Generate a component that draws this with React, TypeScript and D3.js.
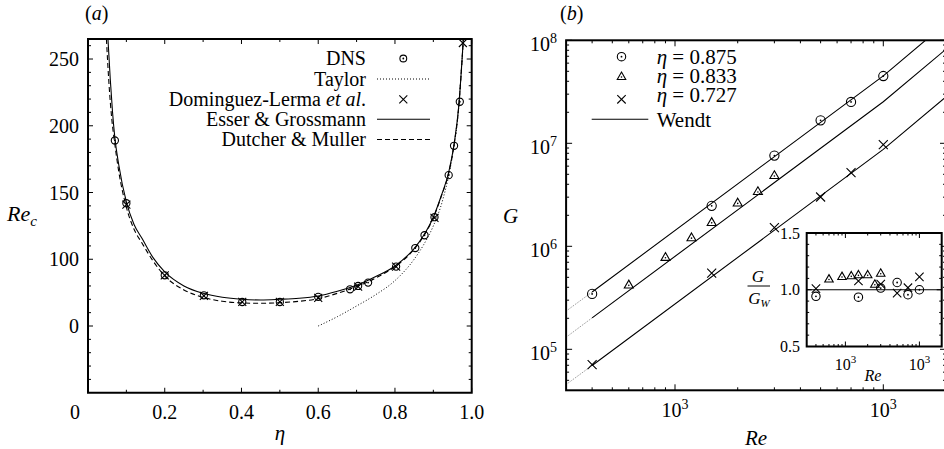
import React from 'react';
import * as d3 from 'd3';

const TS = { fontFamily: '"Liberation Serif", monospace' };

// ---------- Panel (a) ----------
const etaTickValues = [0, 0.2, 0.4, 0.6, 0.8, 1.0];
const etaTickLabels = ['0', '0.2', '0.4', '0.6', '0.8', '1.0'];
const etaMinorTicks = [0.1, 0.3, 0.5, 0.7, 0.9];
const recTickValues = [50, 100, 150, 200, 250];
const recTickLabels = ['0', '100', '150', '200', '250'];

const dnsEta = [0.07, 0.1, 0.2, 0.302, 0.402, 0.5, 0.6, 0.683, 0.704, 0.73, 0.803, 0.853, 0.877, 0.903, 0.94, 0.954, 0.969];
const dnsRe = [189, 142, 88, 73, 68, 68, 71.8, 77.5, 80, 82.5, 94.5, 108.4, 118, 131.5, 163, 185, 218];

const dlEta = [0.1, 0.2, 0.302, 0.402, 0.5, 0.6, 0.704, 0.803, 0.903, 0.977];
const dlRe = [141, 88, 72.5, 68, 68, 71, 79.5, 94.5, 131, 262];

const egEta = [0.052, 0.058, 0.064, 0.07, 0.08, 0.1, 0.12, 0.141, 0.17, 0.2, 0.25, 0.3, 0.35, 0.4, 0.45, 0.5, 0.55, 0.6, 0.65, 0.7, 0.75, 0.8, 0.85, 0.875, 0.9, 0.92, 0.94, 0.955, 0.966, 0.976, 0.982];
const egRe = [265, 235, 210, 191, 171, 143, 126, 115.5, 101, 90.5, 80, 74.5, 71.5, 70, 69.5, 70, 70.8, 72.5, 76, 80.5, 87, 95, 108, 118, 131.5, 147, 165, 188, 214, 255, 285];

const dmEta = [0.048, 0.055, 0.062, 0.07, 0.08, 0.1, 0.12, 0.141, 0.17, 0.2, 0.25, 0.3, 0.35, 0.4, 0.45, 0.5, 0.55, 0.6, 0.65, 0.7, 0.75, 0.8, 0.85, 0.875, 0.9, 0.92, 0.94, 0.955, 0.966, 0.976, 0.982];
const dmRe = [265, 230, 205, 186, 166, 139, 122.5, 112, 98.5, 87.5, 77, 71.5, 68.5, 67.3, 67, 67.5, 68.5, 70.5, 74.5, 79.5, 86, 94.5, 107.5, 117.5, 131, 146.5, 164.5, 187.5, 213.5, 254.5, 285];

const taylorEta = [0.6, 0.65, 0.7, 0.75, 0.8, 0.85, 0.875, 0.9, 0.925, 0.95, 0.965, 0.975, 0.984];
const taylorRe = [50, 57, 65, 73.5, 84, 100, 111, 125, 145, 178, 210, 250, 285];

const legendALabels = ['DNS', 'Taylor', 'Dominguez-Lerma', 'Esser & Grossmann', 'Dutcher & Muller'];

// ---------- Panel (b) ----------
const reMajorTicks = [1000, 10000];
const reTickExps = ['3', '3'];
const gMajorTicks = [1e5, 1e6, 1e7, 1e8];
const gTickExps = ['5', '6', '7', '8'];

const re875 = [400, 1500, 3000, 5000, 7000, 10000];
const g875 = [3.45e5, 2.47e6, 7.6e6, 1.67e7, 2.52e7, 4.5e7];
const re833 = [600, 900, 1200, 1500, 2000, 2500, 3000];
const g833 = [4.18e5, 7.74e5, 1.2e6, 1.69e6, 2.61e6, 3.37e6, 4.82e6];
const re727 = [400, 1500, 3000, 5000, 7000, 10000];
const g727 = [7.1e4, 5.5e5, 1.52e6, 3.01e6, 5.19e6, 9.7e6];

const wendtRe = [300, 400, 10000, 20000];
const wendt875 = [2.35e5, 3.6e5, 4.52e7, 1.47e8];
const wendt833 = [1.31e5, 2.02e5, 2.53e7, 8.2e7];
const wendt727 = [4.55e4, 6.97e4, 8.72e6, 2.83e7];

const legendBLabels = ['0.875', '0.833', '0.727'];

// inset ratios G/G_W
const ratio875 = [0.942, 0.935, 1.015, 1.064, 0.956, 1.0];
const ratio833 = [1.09, 1.112, 1.118, 1.127, 1.127, 1.044, 1.141];
const ratio727 = [1.01, 1.077, 1.05, 0.97, 1.018, 1.113];
const insetYTicks = [0.5, 1.0, 1.5];
const insetYLabels = ['0.5', '1.0', '1.5'];

// ---------- scales ----------
const xA = d3.scaleLinear().domain([0, 1]).range([88, 471.7]);
const yA = d3.scaleLinear().domain([0, 265]).range([392.75, 39]);

const xB = d3.scaleLog().domain([300, 20000]).range([566.1, 946]);
const yB = d3.scaleLog().domain([4e4, 1e8]).range([390.3, 40.3]);

const xI = d3.scaleLog().domain([300, 20000]).range([806.7, 941.7]);
const yI = d3.scaleLinear().domain([0.5, 1.5]).range([346.5, 233]);

function logMinor(lo: number, hi: number) {
  const out: number[] = [];
  for (let e = Math.floor(Math.log10(lo)); e <= Math.ceil(Math.log10(hi)); e++) {
    for (let k = 2; k <= 9; k++) {
      const v = k * Math.pow(10, e);
      if (v > lo * 1.0001 && v < hi * 0.9999) out.push(v);
    }
  }
  return out;
}

const curveLineA = (xs: number[], ys: number[]) =>
  d3.line<number>().x((_, i) => xA(xs[i])).y((_, i) => yA(ys[i])).curve(d3.curveMonotoneX)(xs) || '';

const lineB = (xs: number[], ys: number[]) =>
  d3.line<number>().x((_, i) => xB(xs[i])).y((_, i) => yB(ys[i]))(xs) || '';

const CircleDot = ({ cx, cy, r }: { cx: number; cy: number; r: number }) => (
  <g>
    <circle cx={cx} cy={cy} r={r} fill="none" stroke="#000" strokeWidth={1.1} />
    <circle cx={cx} cy={cy} r={0.9} fill="#000" />
  </g>
);
const Cross = ({ cx, cy, s }: { cx: number; cy: number; s: number }) => (
  <path d={`M${cx - s},${cy - s}L${cx + s},${cy + s}M${cx - s},${cy + s}L${cx + s},${cy - s}`} stroke="#000" strokeWidth={1.1} fill="none" />
);
const TriDot = ({ cx, cy, s }: { cx: number; cy: number; s: number }) => {
  const h = s * 0.866;
  return (
    <g>
      <path d={`M${cx},${cy - (2 * h) / 3}L${cx + s / 2},${cy + h / 3}L${cx - s / 2},${cy + h / 3}Z`} fill="none" stroke="#000" strokeWidth={1.1} />
      <circle cx={cx} cy={cy} r={0.8} fill="#000" />
    </g>
  );
};

const T = (props: any) => <text {...props} style={TS} />;

export default function App() {
  const [ax0, ax1] = xA.range();
  const [ay0, ay1] = yA.range();
  const [bx0, bx1] = xB.range();
  const [by0, by1] = yB.range();
  const [ix0, ix1] = xI.range();
  const [iy0, iy1] = yI.range();

  const recMinor = d3.range(10, 265, 10).filter((v) => v % 50 !== 0);
  const reMinor = logMinor(300, 20000);
  const gMinor = logMinor(4e4, 1e8);
  const insetYMinor = d3.range(0.6, 1.45, 0.1).filter((v) => Math.abs(v - 1) > 0.01);

  const legA = [65, 85.5, 105.8, 125.8, 146];
  const legB = [63.5, 83, 101.5, 126.7];

  return (
    <svg width={944} height={449} style={{ position: 'absolute', left: 0, top: 0, background: '#fff' }}>
      <defs>
        <clipPath id="clipA"><rect x={ax0} y={ay1} width={ax1 - ax0} height={ay0 - ay1} /></clipPath>
        <clipPath id="clipB"><rect x={bx0} y={by1} width={bx1 - bx0} height={by0 - by1} /></clipPath>
        <clipPath id="clipI"><rect x={ix0} y={iy1} width={ix1 - ix0} height={iy0 - iy1} /></clipPath>
      </defs>
      <rect x={0} y={0} width={944} height={449} fill="#fff" />

      {/* ================= Panel (a) ================= */}
      <T x={85} y={20} fontSize={20}>(<tspan fontStyle="italic">a</tspan>)</T>

      <g stroke="#000" strokeWidth={1}>
        {etaTickValues.map((v) => (
          <g key={'ex' + v}>
            <line x1={xA(v)} x2={xA(v)} y1={ay0} y2={ay0 - 5} />
            <line x1={xA(v)} x2={xA(v)} y1={ay1} y2={ay1 + 5} />
          </g>
        ))}
        {etaMinorTicks.map((v) => (
          <g key={'exm' + v}>
            <line x1={xA(v)} x2={xA(v)} y1={ay0} y2={ay0 - 3} />
            <line x1={xA(v)} x2={xA(v)} y1={ay1} y2={ay1 + 3} />
          </g>
        ))}
        {recTickValues.map((v) => (
          <g key={'ry' + v}>
            <line x1={ax0} x2={ax0 + 5} y1={yA(v)} y2={yA(v)} />
            <line x1={ax1} x2={ax1 - 5} y1={yA(v)} y2={yA(v)} />
          </g>
        ))}
        {recMinor.map((v) => (
          <g key={'rym' + v}>
            <line x1={ax0} x2={ax0 + 3} y1={yA(v)} y2={yA(v)} />
            <line x1={ax1} x2={ax1 - 3} y1={yA(v)} y2={yA(v)} />
          </g>
        ))}
      </g>

      {etaTickValues.map((v, i) => (
        <T key={'exl' + v} x={i === 0 ? xA(v) - 8 : xA(v)} y={418.5} fontSize={20} textAnchor={i === 0 ? 'end' : 'middle'}>
          {etaTickLabels[i]}
        </T>
      ))}
      {recTickValues.map((v, i) => (
        <T key={'ryl' + v} x={79} y={yA(v) + 7} fontSize={20} textAnchor="end">
          {recTickLabels[i]}
        </T>
      ))}
      <T x={280} y={440} fontSize={21} fontStyle="italic" textAnchor="middle">η</T>
      <T x={7} y={221} fontSize={22} fontStyle="italic">
        Re<tspan fontSize={15} dy={5}>c</tspan>
      </T>

      <g clipPath="url(#clipA)" fill="none" stroke="#000">
        <path d={curveLineA(taylorEta, taylorRe)} strokeWidth={1} strokeDasharray="1,2" />
        <path d={curveLineA(dmEta, dmRe)} strokeWidth={1.1} strokeDasharray="5,3" />
        <path d={curveLineA(egEta, egRe)} strokeWidth={1.1} />
      </g>
      <g clipPath="url(#clipA)">
        {dnsEta.map((e, i) => <CircleDot key={'dns' + i} cx={xA(e)} cy={yA(dnsRe[i])} r={3.6} />)}
        {dlEta.map((e, i) => <Cross key={'dl' + i} cx={xA(e)} cy={yA(dlRe[i])} s={4} />)}
      </g>

      {legendALabels.map((t, i) => (
        <T key={'la' + i} x={366} y={legA[i]} fontSize={20} textAnchor="end">
          {i === 2 ? (<>{t} <tspan fontStyle="italic">et al</tspan>.</>) : t}
        </T>
      ))}
      <CircleDot cx={403.3} cy={legA[0] - 6.5} r={3.4} />
      <line x1={377} x2={430} y1={legA[1] - 6.5} y2={legA[1] - 6.5} stroke="#000" strokeWidth={1} strokeDasharray="1,2" />
      <Cross cx={403.3} cy={legA[2] - 6.5} s={4} />
      <line x1={377} x2={430} y1={legA[3] - 6.5} y2={legA[3] - 6.5} stroke="#000" strokeWidth={1.1} />
      <line x1={377} x2={430} y1={legA[4] - 6.5} y2={legA[4] - 6.5} stroke="#000" strokeWidth={1.1} strokeDasharray="5,3" />

      <rect x={ax0} y={ay1} width={ax1 - ax0} height={ay0 - ay1} fill="none" stroke="#000" strokeWidth={2} />

      {/* ================= Panel (b) ================= */}
      <T x={560} y={20} fontSize={20}>(<tspan fontStyle="italic">b</tspan>)</T>

      <g stroke="#000" strokeWidth={1}>
        {reMajorTicks.map((v) => (
          <g key={'bx' + v}>
            <line x1={xB(v)} x2={xB(v)} y1={by0} y2={by0 - 6} />
            <line x1={xB(v)} x2={xB(v)} y1={by1} y2={by1 + 6} />
          </g>
        ))}
        {reMinor.map((v) => (
          <g key={'bxm' + v}>
            <line x1={xB(v)} x2={xB(v)} y1={by0} y2={by0 - 3} />
            <line x1={xB(v)} x2={xB(v)} y1={by1} y2={by1 + 3} />
          </g>
        ))}
        {gMajorTicks.map((v) => (
          <g key={'by' + v}>
            <line x1={bx0} x2={bx0 + 6} y1={yB(v)} y2={yB(v)} />
            <line x1={bx1} x2={bx1 - 6} y1={yB(v)} y2={yB(v)} />
          </g>
        ))}
        {gMinor.map((v) => (
          <g key={'bym' + v}>
            <line x1={bx0} x2={bx0 + 3} y1={yB(v)} y2={yB(v)} />
            <line x1={bx1} x2={bx1 - 3} y1={yB(v)} y2={yB(v)} />
          </g>
        ))}
      </g>
      {reMajorTicks.map((v, i) => (
        <T key={'bxl' + v} x={xB(v)} y={416.7} fontSize={20} textAnchor="middle">
          10<tspan fontSize={14} dy={-8}>{reTickExps[i]}</tspan>
        </T>
      ))}
      {gMajorTicks.map((v, i) => (
        <T key={'byl' + v} x={557} y={yB(v) + 10.5} fontSize={20} textAnchor="end">
          10<tspan fontSize={14} dy={-8}>{gTickExps[i]}</tspan>
        </T>
      ))}
      <T x={756} y={445} fontSize={21} fontStyle="italic" textAnchor="middle">Re</T>
      <T x={510.5} y={223} fontSize={21} fontStyle="italic" textAnchor="middle">G</T>

      <g clipPath="url(#clipB)" fill="none">
        {[wendt875, wendt833, wendt727].map((w, k) => (
          <g key={'w' + k}>
            <path d={lineB(wendtRe.slice(0, 2), w.slice(0, 2))} stroke="#777" strokeWidth={0.9} strokeDasharray="1,1.2" />
            <path d={lineB(wendtRe.slice(1), w.slice(1))} stroke="#000" strokeWidth={1.1} />
          </g>
        ))}
      </g>
      <g clipPath="url(#clipB)">
        {re875.map((r, i) => <CircleDot key={'c875' + i} cx={xB(r)} cy={yB(g875[i])} r={4.6} />)}
        {re833.map((r, i) => <TriDot key={'t833' + i} cx={xB(r)} cy={yB(g833[i])} s={9} />)}
        {re727.map((r, i) => <Cross key={'x727' + i} cx={xB(r)} cy={yB(g727[i])} s={4.5} />)}
      </g>

      {legendBLabels.map((t, i) => (
        <T key={'lb' + i} x={656.7} y={legB[i]} fontSize={21}>
          <tspan fontStyle="italic">η</tspan> = {t}
        </T>
      ))}
      <T x={656.7} y={legB[3]} fontSize={21}>Wendt</T>
      <CircleDot cx={621.5} cy={56.7} r={4.2} />
      <TriDot cx={621.5} cy={77} s={8.5} />
      <Cross cx={621.5} cy={99.3} s={4.2} />
      <line x1={591.7} x2={648.3} y1={119.3} y2={119.3} stroke="#000" strokeWidth={1.1} />

      <rect x={bx0} y={by1} width={bx1 - bx0} height={by0 - by1} fill="none" stroke="#000" strokeWidth={2} />

      {/* ================= Inset ================= */}
      <rect x={ix0} y={iy1} width={ix1 - ix0} height={iy0 - iy1} fill="#fff" stroke="none" />
      <g stroke="#000" strokeWidth={1}>
        {reMajorTicks.map((v) => (
          <g key={'ix' + v}>
            <line x1={xI(v)} x2={xI(v)} y1={iy0} y2={iy0 - 5} />
            <line x1={xI(v)} x2={xI(v)} y1={iy1} y2={iy1 + 5} />
          </g>
        ))}
        {reMinor.map((v) => (
          <g key={'ixm' + v}>
            <line x1={xI(v)} x2={xI(v)} y1={iy0} y2={iy0 - 2.5} />
            <line x1={xI(v)} x2={xI(v)} y1={iy1} y2={iy1 + 2.5} />
          </g>
        ))}
        {insetYTicks.map((v) => (
          <g key={'iy' + v}>
            <line x1={ix0} x2={ix0 + 5} y1={yI(v)} y2={yI(v)} />
            <line x1={ix1} x2={ix1 - 5} y1={yI(v)} y2={yI(v)} />
          </g>
        ))}
        {insetYMinor.map((v) => (
          <g key={'iym' + v}>
            <line x1={ix0} x2={ix0 + 2.5} y1={yI(v)} y2={yI(v)} />
            <line x1={ix1} x2={ix1 - 2.5} y1={yI(v)} y2={yI(v)} />
          </g>
        ))}
      </g>
      <line x1={ix0} x2={ix1} y1={yI(1)} y2={yI(1)} stroke="#000" strokeWidth={1.1} />
      <g clipPath="url(#clipI)">
        {re875.map((r, i) => <CircleDot key={'ic' + i} cx={xI(r)} cy={yI(ratio875[i])} r={4.2} />)}
        {re833.map((r, i) => <TriDot key={'it' + i} cx={xI(r)} cy={yI(ratio833[i])} s={8.5} />)}
        {re727.map((r, i) => <Cross key={'ix' + i} cx={xI(r)} cy={yI(ratio727[i])} s={4.2} />)}
      </g>
      <rect x={ix0} y={iy1} width={ix1 - ix0} height={iy0 - iy1} fill="none" stroke="#000" strokeWidth={2} />
      {insetYTicks.map((v, i) => (
        <T key={'iyl' + v} x={800} y={yI(v) + 5.5} fontSize={16} textAnchor="end">{insetYLabels[i]}</T>
      ))}
      {reMajorTicks.map((v, i) => (
        <T key={'ixl' + v} x={xI(v)} y={370} fontSize={16} textAnchor="middle">
          10<tspan fontSize={11} dy={-7}>{reTickExps[i]}</tspan>
        </T>
      ))}
      <T x={873} y={381} fontSize={16} fontStyle="italic" textAnchor="middle">Re</T>
      <T x={758} y={281.5} fontSize={17} fontStyle="italic" textAnchor="middle">G</T>
      <line x1={747.5} x2={770} y1={286} y2={286} stroke="#000" strokeWidth={1} />
      <T x={759} y={303.5} fontSize={17} fontStyle="italic" textAnchor="middle">
        G<tspan fontSize={11} dy={3}>W</tspan>
      </T>
    </svg>
  );
}
